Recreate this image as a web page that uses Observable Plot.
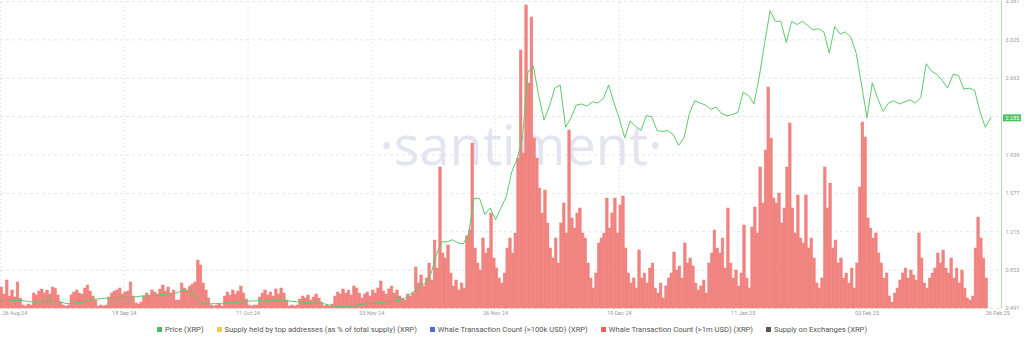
<!DOCTYPE html>
<html><head><meta charset="utf-8">
<script src="https://cdn.jsdelivr.net/npm/d3@7"></script>
<script src="https://cdn.jsdelivr.net/npm/@observablehq/plot@0.6"></script>
<style>
body{margin:0;background:#fff;font-family:Roboto,"Open Sans",sans-serif;}
#chart{position:relative;width:1024px;height:320px;}
#legend{height:18px;display:flex;justify-content:center;align-items:center;gap:13px;font-size:7.6px;color:#555;}
.item{display:flex;align-items:center;gap:3px;white-space:nowrap;}
.sw{width:5px;height:5px;display:inline-block;}
</style></head><body>
<div id="chart"></div><div id="legend"></div>
<script>
// ---- data ----
const seriesStart = "2024-08-26";   // first sample
const axisEnd = "2025-02-28";       // right edge of x axis
// Daily XRP price (USD), from 26 Aug 2024
const priceXRP = [
0.58,0.575,0.57,0.567,0.565,0.56,0.552,0.55,0.555,0.562,
0.56,0.555,0.54,0.535,0.545,0.55,0.56,0.575,0.58,0.585,
0.59,0.59,0.595,0.6,0.596,0.6,0.607,0.61,0.613,0.616,
0.62,0.625,0.63,0.645,0.66,0.655,0.635,0.56,0.537,0.535,
0.537,0.54,0.545,0.55,0.552,0.556,0.56,0.563,0.566,0.567,
0.566,0.566,0.566,0.564,0.56,0.556,0.552,0.548,0.545,0.54,
0.537,0.525,0.512,0.508,0.51,0.512,0.52,0.53,0.535,0.54,
0.545,0.55,0.555,0.56,0.565,0.58,0.62,0.66,0.71,0.727,
0.82,1.0,1.12,1.12,1.14,1.11,1.1,1.2,1.53,1.53,
1.38,1.44,1.33,1.44,1.55,1.78,1.9,2.1,2.72,2.78,
2.5,2.27,2.4,2.57,2.6,2.2,2.29,2.41,2.42,2.4,
2.44,2.43,2.47,2.6,2.43,2.28,2.1,2.26,2.21,2.17,
2.31,2.3,2.17,2.16,2.17,2.13,2.03,2.1,2.33,2.45,
2.43,2.41,2.37,2.39,2.33,2.31,2.32,2.34,2.53,2.5,
2.42,2.68,3.0,3.3,3.2,3.2,3.0,3.2,3.17,3.2,
3.16,3.12,3.13,3.1,2.9,3.15,3.08,3.1,3.05,2.9,
2.6,2.29,2.62,2.47,2.35,2.43,2.45,2.42,2.44,2.46,
2.43,2.48,2.8,2.73,2.7,2.64,2.57,2.7,2.69,2.56,
2.57,2.55,2.35,2.2,2.29
];
// Whale transaction count (>1m USD), 12-hour buckets from 26 Aug 2024
const whaleTx1m = [
21,14,28,12,18,11,26,10, 3,2,4,3,
15,13,17,19,15,18,14,21,20,13,6, 3,2,3,
13,16,18,15,14,20,23,17,12,8, 2,3,2,3,
11,15,17,18,20,14,16,17,26,12,5, 4,6,
12,15,13,18,16,14,19,23,17,21,15,18,8,
8,25,20,18,22,24,26,48,43,25,18,10, 3,2,3,4,2,
12,16,13,18,14,17,22,15,9, 3,2,3,3,
11,15,18,13,16,12,19,14,20,15,8, 2,3,2,3,
9,12,10,13,8,11,14,10,6, 2,3,2,4,
12,16,14,19,15,18,13,22,20,15,10,14,
16,12,18,15,20,27,17,14,19,22,15,18,12,
10,8,14,12,15,41,25,33,22,30,45,28,68,40,141,55,50,63,35,22,
28,18,25,20,72,78,165,60,45,38,70,55,60,95,50,40,30,25,35,60,
70,55,75,150,258,155,303,225,291,170,150,120,95,118,85,60,50,70,45,
85,105,75,178,90,80,95,100,75,70,45,30,20,35,65,70,75,110,80,95,
110,75,103,112,60,35,25,30,20,58,30,35,25,40,45,20,15,25,10,22,
30,35,56,38,42,30,65,45,50,42,25,18,22,28,15,45,55,78,60,
55,70,40,100,45,30,38,22,35,83,30,20,81,101,75,141,105,158,221,170,
110,105,115,85,100,141,185,100,75,113,70,65,113,60,70,50,25,20,30,141,
100,125,60,68,45,50,30,35,25,40,20,45,121,186,171,90,
80,70,75,55,45,30,35,12,6,15,20,28,35,40,30,38,33,28,75,50,
25,20,30,35,40,55,45,58,40,35,50,30,40,25,38,20,10,8,12,60,
91,70,50,30
];
const xTickDates = ["2024-08-26","2024-09-18","2024-10-11","2024-11-03","2024-11-26","2024-12-19","2025-01-11","2025-02-03","2025-02-26"];
const xTickLabels = ["26 Aug 24","18 Sep 24","11 Oct 24","03 Nov 24","26 Nov 24","19 Dec 24","11 Jan 25","03 Feb 25","26 Feb 25"];
const priceTicks = [0.491,0.853,1.215,1.577,1.939,2.301,2.663,3.025,3.387];
const priceTickLabels = ["0.491","0.853","1.215","1.577","1.939","","2.663","3.025","3.387"];
const lastPrice = 2.285;
const lastPriceLabel = "2.285";
const whaleAxisMax = 307; // hidden secondary axis top
const legendLabels = ["Price (XRP)","Supply held by top addresses (as % of total supply) (XRP)","Whale Transaction Count (>100k USD) (XRP)","Whale Transaction Count (>1m USD) (XRP)","Supply on Exchanges (XRP)"];
const legendColors = ["#4cbb5a","#f2c94c","#5468e0","#ee5f5b","#555555"];

// ---- build ----
const t0 = new Date(seriesStart + "T00:00:00Z");
const tEnd = new Date(axisEnd + "T00:00:00Z");
const yMin = priceTicks[0], yMax = priceTicks[priceTicks.length-1];
const priceData = priceXRP.map((v,i)=>({date: d3.utcDay.offset(t0,i), v}));
// the whale series sits on its own hidden axis [0, whaleAxisMax], drawn over the same vertical extent
const toPriceUnits = c => yMin + c/whaleAxisMax*(yMax - yMin);
const barData = whaleTx1m.map((c,i)=>({d1: d3.utcHour.offset(t0,12*i), d2: d3.utcHour.offset(t0,12*i+12), top: toPriceUnits(c)}));
const ticks = xTickDates.map((d,i)=>({date:new Date(d+"T00:00:00Z"), label:xTickLabels[i], i}));
const yt = priceTicks.map((v,i)=>({v, label: priceTickLabels[i]}));
const barColor = "#f0837f";

const chart = Plot.plot({
  width:1024, height:320,
  marginLeft:0, marginRight:23, marginTop:1, marginBottom:12,
  x:{type:"utc", domain:[t0,tEnd], axis:null},
  y:{domain:[yMin,yMax], axis:null},
  style:{background:"transparent", fontFamily:"Roboto, 'Open Sans', sans-serif", overflow:"visible"},
  marks:[
    Plot.ruleX(ticks, {x:"date", y1:yMin, y2:yMax, stroke:"#e4e4e4", strokeDasharray:"1.5,2.5"}),
    Plot.ruleY(yt, {y:"v", x1:t0, x2:tEnd, stroke:"#e6e6e6", strokeDasharray:"3,3"}),
    Plot.text(["·santiment·"], {frameAnchor:"middle", dx:20, dy:-7, fontSize:54, fill:"#e2e5ef", fontFamily:"'Open Sans', sans-serif"}),
    Plot.rectY(barData, {x1:"d1", x2:"d2", y1:yMin, y2:"top", fill:barColor, stroke:barColor, strokeWidth:0.5}),
    Plot.line(priceData, {x:"date", y:"v", stroke:"#5cc96b", strokeWidth:1}),
    Plot.ruleX([tEnd], {y1:yMin, y2:yMax, stroke:"#a8e2ae", strokeWidth:1}),
    Plot.text(yt, {x:()=>tEnd, y:"v", text:"label", textAnchor:"start", dx:4, fontSize:5.5, fill:"#9a9a9a"}),
    Plot.rect([lastPrice], {x1:()=>tEnd, x2:()=>tEnd, y1:d=>d, y2:d=>d, insetLeft:2, insetRight:-20, insetTop:-3.5, insetBottom:-3.5, fill:"#4cc35e"}),
    Plot.text([lastPrice], {x:()=>tEnd, y:d=>d, text:()=>lastPriceLabel, textAnchor:"start", dx:4, fontSize:5.5, fill:"#fff"}),
    Plot.text(ticks.filter(d=>d.i===0), {x:"date", y:yMin, text:"label", textAnchor:"start", dx:2, dy:5, fontSize:5.5, fill:"#9a9a9a"}),
    Plot.text(ticks.filter(d=>d.i>0 && d.i<ticks.length-1), {x:"date", y:yMin, text:"label", dy:5, fontSize:5.5, fill:"#9a9a9a"}),
    Plot.text(ticks.filter(d=>d.i===ticks.length-1), {x:"date", y:yMin, text:"label", dx:7, dy:5, fontSize:5.5, fill:"#9a9a9a"})
  ]
});
document.getElementById("chart").appendChild(chart);

const lg = document.getElementById("legend");
legendLabels.forEach((l,i)=>{
  const it = document.createElement("span"); it.className="item";
  const sw = document.createElement("span"); sw.className="sw"; sw.style.background=legendColors[i];
  const tx = document.createElement("span"); tx.textContent=l;
  it.appendChild(sw); it.appendChild(tx); lg.appendChild(it);
});
</script>
</body></html>
